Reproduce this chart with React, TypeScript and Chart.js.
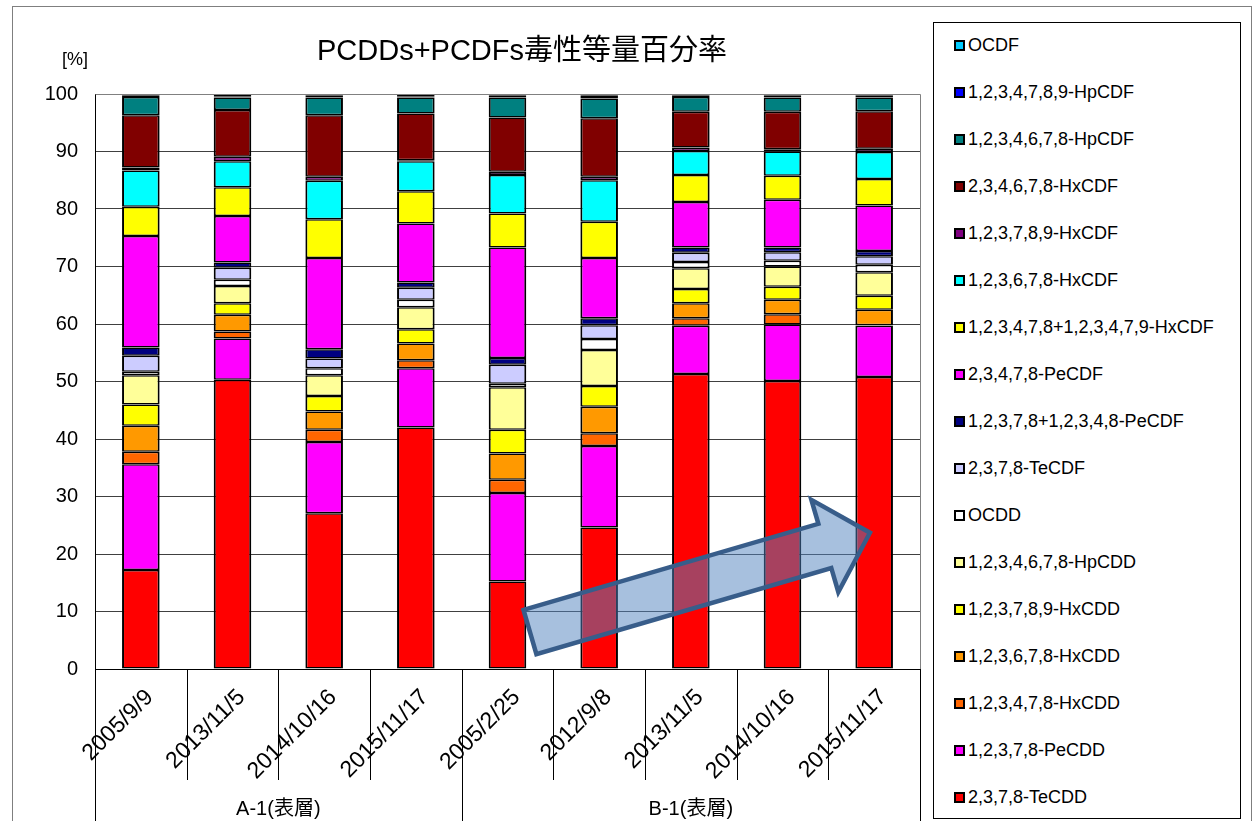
import React, { useEffect, useRef, useState } from 'react';
import { Chart, registerables } from 'chart.js';

Chart.register(...registerables);

const FONT = '"Liberation Sans", "Noto Sans CJK JP", sans-serif';

// ---- data ----
const categories = ['2005/9/9', '2013/11/5', '2014/10/16', '2015/11/17', '2005/2/25', '2012/9/8', '2013/11/5', '2014/10/16', '2015/11/17'];
const groupLabels = ['A-1(表層)', 'B-1(表層)'];
const groupSizes = [4, 5];
const chartTitle = 'PCDDs+PCDFs毒性等量百分率';
const yUnit = '[%]';

const teCDD = [17.2, 50.3, 27.1, 42.0, 15.2, 24.6, 51.3, 50.1, 50.8];
const peCDD = [18.4, 7.2, 12.4, 10.3, 15.4, 14.2, 8.4, 9.8, 8.9];
const hxCDD123478 = [2.2, 1.2, 2.1, 1.4, 2.3, 2.2, 1.3, 1.8, 0.1];
const hxCDD123678 = [4.5, 2.9, 3.2, 2.9, 4.6, 4.6, 2.6, 2.5, 2.7];
const hxCDD123789 = [3.7, 2.0, 2.7, 2.5, 4.1, 3.6, 2.5, 2.3, 2.4];
const hpCDD = [5.1, 3.0, 3.6, 3.8, 7.4, 6.3, 3.6, 3.5, 4.1];
const ocdd = [0.6, 1.1, 1.2, 1.3, 0.6, 1.9, 1.1, 1.0, 1.3];
const teCDF = [2.8, 2.1, 1.7, 2.1, 3.3, 2.4, 1.6, 1.5, 1.5];
const peCDF12378 = [1.4, 0.9, 1.6, 0.9, 1.2, 1.2, 0.9, 0.8, 0.9];
const peCDF23478 = [19.4, 8.1, 15.9, 10.3, 19.2, 10.5, 7.9, 8.3, 7.9];
const hxCDF123478 = [5.1, 5.0, 6.7, 5.6, 5.9, 6.3, 4.7, 4.2, 4.6];
const hxCDF123678 = [6.3, 4.5, 6.7, 5.2, 6.7, 7.2, 4.2, 4.2, 4.7];
const hxCDF123789 = [0.5, 0.8, 0.7, 0.2, 0.6, 0.6, 0.6, 0.4, 0.6];
const hxCDF234678 = [9.1, 8.1, 10.7, 8.1, 9.4, 10.2, 6.2, 6.5, 6.5];
const hpCDF1234678 = [3.2, 2.2, 3.1, 2.8, 3.5, 3.4, 2.6, 2.5, 2.4];
const hpCDF1234789 = [0.2, 0.2, 0.3, 0.2, 0.4, 0.5, 0.2, 0.3, 0.3];
const ocdf = [0.3, 0.4, 0.3, 0.4, 0.2, 0.3, 0.3, 0.3, 0.3];

// bottom-to-top stacking order
const seriesNames = [
  '2,3,7,8-TeCDD', '1,2,3,7,8-PeCDD', '1,2,3,4,7,8-HxCDD', '1,2,3,6,7,8-HxCDD', '1,2,3,7,8,9-HxCDD',
  '1,2,3,4,6,7,8-HpCDD', 'OCDD', '2,3,7,8-TeCDF', '1,2,3,7,8+1,2,3,4,8-PeCDF', '2,3,4,7,8-PeCDF',
  '1,2,3,4,7,8+1,2,3,4,7,9-HxCDF', '1,2,3,6,7,8-HxCDF', '1,2,3,7,8,9-HxCDF', '2,3,4,6,7,8-HxCDF',
  '1,2,3,4,6,7,8-HpCDF', '1,2,3,4,7,8,9-HpCDF', 'OCDF',
];
const seriesValues = [
  teCDD, peCDD, hxCDD123478, hxCDD123678, hxCDD123789, hpCDD, ocdd, teCDF, peCDF12378, peCDF23478,
  hxCDF123478, hxCDF123678, hxCDF123789, hxCDF234678, hpCDF1234678, hpCDF1234789, ocdf,
];
const seriesColors = [
  '#FF0000', '#FF00FF', '#FF6600', '#FF9900', '#FFFF00', '#FFFF99', '#FFFFFF', '#CCCCFF', '#000080', '#FF00FF',
  '#FFFF00', '#00FFFF', '#800080', '#800000', '#008080', '#0000FF', '#00CCFF',
];

// annotation arrow (in data units: category index, percent)
const arrowTail = { x: 4.245, y: 6.43 };
const arrowTip = { x: 7.954, y: 23.7 };

const W = 1258;
const H = 821;

const decorPlugin = {
  id: 'decor',
  beforeDraw(chart: any) {
    const { ctx } = chart;
    ctx.save();
    ctx.fillStyle = '#fff';
    ctx.fillRect(0, 0, chart.width, chart.height);
    ctx.restore();
  },
  afterDatasetsDraw(chart: any) {
    const { ctx, scales } = chart;
    const xs = scales.x;
    const ys = scales.y;
    const t = { x: xs.getPixelForValue(arrowTail.x), y: ys.getPixelForValue(arrowTail.y) };
    const p = { x: xs.getPixelForValue(arrowTip.x), y: ys.getPixelForValue(arrowTip.y) };
    const dx = p.x - t.x;
    const dy = p.y - t.y;
    const len = Math.hypot(dx, dy);
    const ux = dx / len, uy = dy / len;
    const vx = -uy, vy = ux;
    const sw = 23, hw = 48, hl = 47;
    const pt = (u: number, v: number) => [t.x + ux * u + vx * v, t.y + uy * u + vy * v];
    const pts = [pt(0, -sw), pt(len - hl, -sw), pt(len - hl, -hw), pt(len, 0), pt(len - hl, hw), pt(len - hl, sw), pt(0, sw)];
    ctx.save();
    ctx.beginPath();
    pts.forEach(([x, y], i) => (i ? ctx.lineTo(x, y) : ctx.moveTo(x, y)));
    ctx.closePath();
    ctx.fillStyle = 'rgba(79,129,189,0.5)';
    ctx.fill();
    ctx.lineWidth = 4.5;
    ctx.strokeStyle = '#385D8A';
    ctx.lineJoin = 'miter';
    ctx.stroke();
    ctx.restore();
  },
  afterDraw(chart: any) {
    const { ctx, chartArea: ca, scales } = chart;
    const xs = scales.x;
    ctx.save();
    // outer frame
    ctx.strokeStyle = '#7f7f7f';
    ctx.lineWidth = 1;
    ctx.strokeRect(12.5, 6.5, 1239, 900);
    // plot top / right border
    ctx.strokeStyle = '#808080';
    ctx.beginPath();
    ctx.moveTo(Math.round(ca.left) + 0.5, Math.round(ca.top) + 0.5);
    ctx.lineTo(Math.round(ca.right) + 0.5, Math.round(ca.top) + 0.5);
    ctx.lineTo(Math.round(ca.right) + 0.5, Math.round(ca.bottom) + 0.5);
    ctx.stroke();
    // category separators below the axis
    ctx.strokeStyle = '#000';
    const half = (xs.getPixelForValue(1) - xs.getPixelForValue(0)) / 2;
    const groupEnds = new Set<number>();
    let acc = 0;
    groupSizes.forEach((n) => { acc += n; groupEnds.add(acc); });
    for (let i = 0; i <= categories.length; i++) {
      const x = Math.round(xs.getPixelForValue(i) - half) + 0.5;
      const full = i === 0 || groupEnds.has(i);
      ctx.beginPath();
      ctx.moveTo(x, ca.bottom);
      ctx.lineTo(x, full ? chart.height : 780);
      ctx.stroke();
    }
    ctx.restore();
  },
};

export default function App() {
  const canvasRef = useRef<HTMLCanvasElement>(null);
  const [groupCenters, setGroupCenters] = useState<number[]>([]);

  useEffect(() => {
    const canvas = canvasRef.current;
    if (!canvas) return;
    const chart = new Chart(canvas, {
      type: 'bar',
      data: {
        labels: categories,
        datasets: seriesNames.map((name, i) => ({
          label: name,
          data: seriesValues[i],
          backgroundColor: seriesColors[i],
          borderColor: '#000',
          borderWidth: { top: 1.5, bottom: 1.5, left: 2, right: 2 },
          borderSkipped: false,
          barPercentage: 0.41,
          categoryPercentage: 1,
        })),
      },
      options: {
        responsive: false,
        animation: false,
        devicePixelRatio: 1,
        layout: { padding: { left: 0, top: 94, right: W - 920, bottom: 0 } },
        plugins: {
          legend: { display: false },
          title: { display: false },
          tooltip: { enabled: false },
        },
        scales: {
          x: {
            stacked: true,
            afterFit: (s: any) => { s.height = H - 669; },
            grid: { display: true, drawOnChartArea: false, drawTicks: false },
            border: { display: true, color: '#000', width: 1 },
            ticks: {
              autoSkip: false,
              maxRotation: 45,
              minRotation: 45,
              padding: 15,
              labelOffset: 9,
              color: '#000',
              font: { family: FONT, size: 23 },
            },
          },
          y: {
            stacked: true,
            min: 0,
            max: 100,
            afterFit: (s: any) => { s.width = 95; },
            grid: {
              color: (c: any) => (c.tick && c.tick.value === 100 ? '#808080' : '#404040'),
              drawTicks: false,
              lineWidth: 1,
            },
            border: { display: true, color: '#000', width: 1 },
            ticks: {
              stepSize: 10,
              padding: 17,
              color: '#000',
              font: { family: FONT, size: 20 },
            },
          },
        },
      },
      plugins: [decorPlugin],
    });
    const xs: any = chart.scales.x;
    const half = (xs.getPixelForValue(1) - xs.getPixelForValue(0)) / 2;
    const centers: number[] = [];
    let start = 0;
    groupSizes.forEach((n) => {
      const a = xs.getPixelForValue(start) - half;
      const b = xs.getPixelForValue(start + n - 1) + half;
      centers.push((a + b) / 2);
      start += n;
    });
    setGroupCenters(centers);
    return () => chart.destroy();
  }, []);

  const legendOrder = seriesNames.map((n, i) => ({ name: n, color: seriesColors[i] })).reverse();

  return (
    <div style={{ position: 'fixed', left: 0, top: 0, width: W, height: H, background: '#fff', fontFamily: FONT, color: '#000', overflow: 'hidden' }}>
      <canvas ref={canvasRef} width={W} height={H} style={{ position: 'absolute', left: 0, top: 0, width: W, height: H }} />
      <div style={{ position: 'absolute', left: 222, top: 33, width: 600, textAlign: 'center', fontSize: 29, lineHeight: '34px', whiteSpace: 'nowrap' }}>
        {chartTitle}
      </div>
      <div style={{ position: 'absolute', left: 45, top: 48, width: 60, textAlign: 'center', fontSize: 18, lineHeight: '22px' }}>
        {yUnit}
      </div>
      {groupCenters.map((c, i) => (
        <div key={i} style={{ position: 'absolute', left: c - 100, top: 796, width: 200, textAlign: 'center', fontSize: 20, lineHeight: '24px', whiteSpace: 'nowrap' }}>
          {groupLabels[i]}
        </div>
      ))}
      <div style={{ position: 'absolute', left: 933, top: 22, width: 308, height: 797, border: '1px solid #000', boxSizing: 'border-box', background: '#fff' }}>
        {legendOrder.map((it, i) => (
          <div key={i} style={{ position: 'absolute', left: 20, top: 10 + 47 * i, height: 24, display: 'flex', alignItems: 'center', fontSize: 18, whiteSpace: 'nowrap' }}>
            <span style={{ display: 'inline-block', width: 11, height: 11, boxSizing: 'border-box', border: '2px solid #000', background: it.color, marginRight: 3 }} />
            <span>{it.name}</span>
          </div>
        ))}
      </div>
    </div>
  );
}
